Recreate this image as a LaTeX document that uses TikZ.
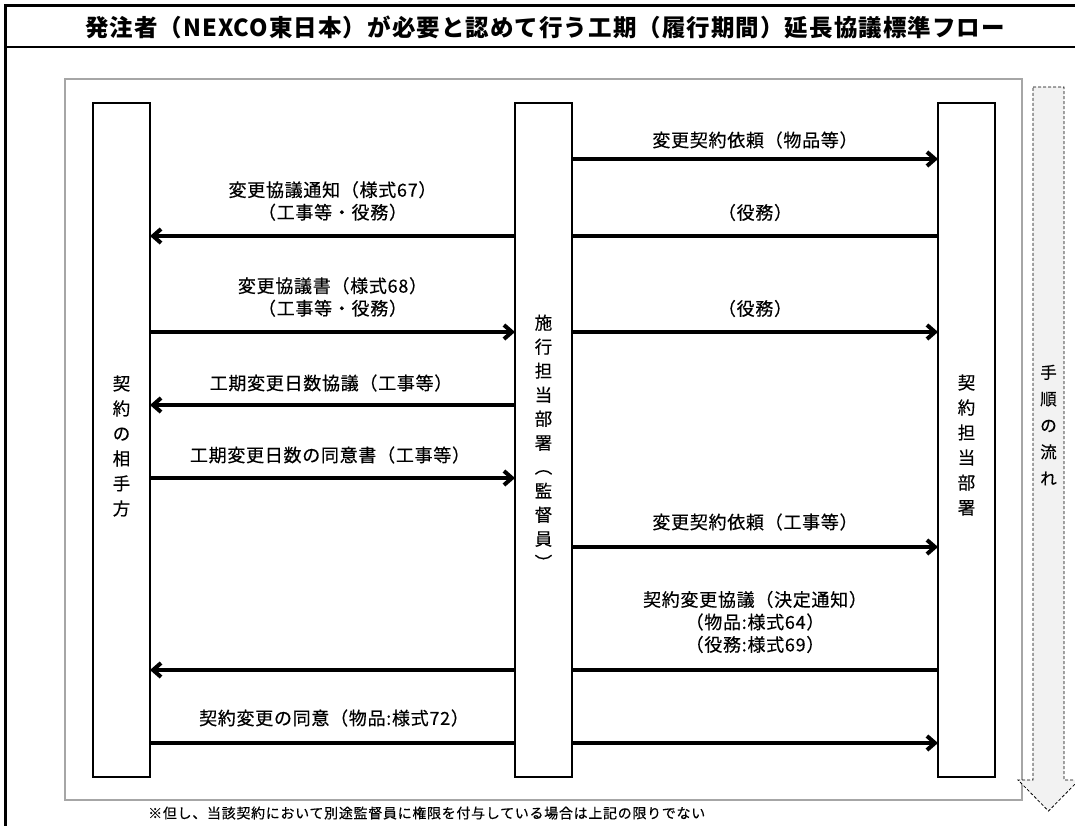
\documentclass[tikz,border=0pt]{standalone}
\usepackage{fontspec}
\usetikzlibrary{arrows.meta,backgrounds}
\newfontfamily\jp[LetterSpace=4,FakeBold=0.4]{Noto Sans CJK JP}
\newfontfamily\jpt[LetterSpace=4.5]{Noto Sans CJK JP}
\newfontfamily\jpv[FakeBold=0.4]{Noto Sans CJK JP}
\newfontfamily\jpn[LetterSpace=5,FakeBold=0.3]{Noto Sans CJK JP}
\definecolor{framegray}{HTML}{A6A6A6}
\definecolor{flowfill}{HTML}{F2F2F2}
\begin{document}
\begin{tikzpicture}[x=1pt,y=-1pt,
 colbox/.style={draw=black,line width=2.5pt,fill=white,minimum width=57pt,minimum height=674pt,inner sep=0pt,outer sep=0pt},
 lbl/.style={font=\jp\fontsize{18}{22.5}\selectfont,align=center,inner sep=0pt},
 vtxt/.style={font=\jpv\fontsize{17.5}{25}\selectfont,align=center,inner sep=0pt},
 arr/.style={line width=4pt,-{Straight Barb[length=8pt,width=14pt]}}
]
\useasboundingbox (0,0) rectangle (1075,825);
% outer frame and title band
\draw[line width=3pt] (5,840) -- (5,5) -- (1085,5);
\draw[line width=2pt] (5,47) -- (1085,47);
\node[font=\jpt\bfseries\fontsize{23.5}{23.5}\selectfont,inner sep=0pt] (title) at (545,27)
 {発注者（NEXCO東日本）が必要と認めて行う工期（履行期間）延長協議標準フロー};
% columns
\node[colbox] (L) at (121.5,440) {};
\node[colbox] (M) at (543.5,440) {};
\node[colbox] (R) at (966.5,440) {};
\node[vtxt] (Lt) at (121.5,446) {契\\約\\の\\相\\手\\方};
\node[vtxt,font=\jpv\fontsize{17.5}{24}\selectfont] (Mt) at (543.5,442) {施\\行\\担\\当\\部\\署\\︵\\監\\督\\員\\︶};
\node[vtxt] (Rt) at (966.5,445) {契\\約\\担\\当\\部\\署};
% row levels
\coordinate (y1) at (0,159);
\coordinate (y2) at (0,236);
\coordinate (y3) at (0,332);
\coordinate (y4) at (0,405);
\coordinate (y5) at (0,478);
\coordinate (y6) at (0,547);
\coordinate (y7) at (0,670);
\coordinate (y8) at (0,743);
\begin{scope}[on background layer]
 \draw[framegray,line width=2pt] (65,79) rectangle (1022,800);
 \draw[fill=flowfill,line width=0.8pt,dash pattern=on 3pt off 2pt]
  (1033,87) -- (1064,87) -- (1064,780) -- (1079,780) -- (1048.5,811) -- (1018,780) -- (1033,780) -- cycle;
 \draw[arr] (M.east|-y1) -- (R.west|-y1);
 \draw[arr] (R.west|-y2) -- (L.east|-y2);
 \draw[arr] (L.east|-y3) -- (M.west|-y3);
 \draw[arr] (M.east|-y3) -- (R.west|-y3);
 \draw[arr] (M.west|-y4) -- (L.east|-y4);
 \draw[arr] (L.east|-y5) -- (M.west|-y5);
 \draw[arr] (M.east|-y6) -- (R.west|-y6);
 \draw[arr] (R.west|-y7) -- (L.east|-y7);
 \draw[arr] (L.east|-y8) -- (R.west|-y8);
\end{scope}
\node[vtxt,font=\jpv\fontsize{16.5}{26.5}\selectfont] (flow) at (1048.5,425) {手\\順\\の\\流\\れ};
% labels
\node[lbl] (t1) at (755,140) {変更契約依頼（物品等）};
\node[lbl] (t2) at (332.5,201) {変更協議通知（様式67）\\（工事等・役務）};
\node[lbl] (t2r) at (755,212.5) {（役務）};
\node[lbl] (t3) at (332.5,297) {変更協議書（様式68）\\（工事等・役務）};
\node[lbl] (t3r) at (755,308.5) {（役務）};
\node[lbl] (t4) at (331,383) {工期変更日数協議（工事等）};
\node[lbl] (t5) at (330,455) {工期変更日数の同意書（工事等）};
\node[lbl] (t6) at (755,522) {変更契約依頼（工事等）};
\node[lbl] (t7) at (755,622) {契約変更協議（決定通知）\\（物品:様式64）\\（役務:様式69）};
\node[lbl] (t8) at (334,718) {契約変更の同意（物品:様式72）};
\node[font=\jpn\fontsize{14}{14}\selectfont,anchor=west,inner sep=0pt] (note) at (148,813)
 {※但し、当該契約において別途監督員に権限を付与している場合は上記の限りでない};
\end{tikzpicture}
\end{document}
